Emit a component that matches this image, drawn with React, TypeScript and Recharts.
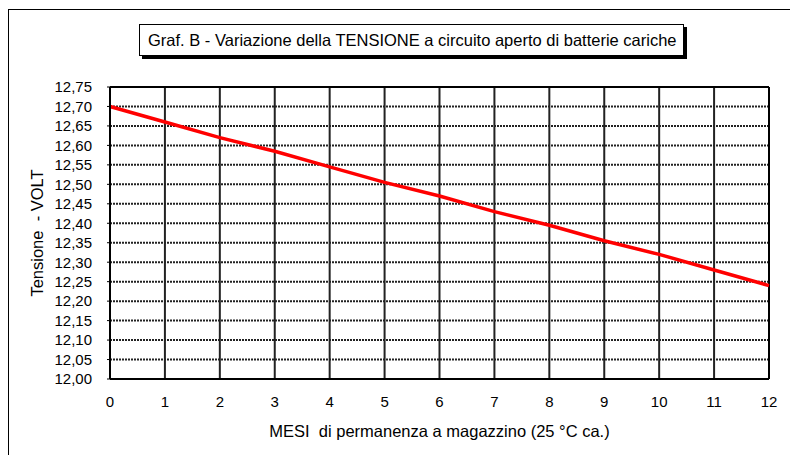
import React from 'react';
import {
  LineChart,
  Line,
  XAxis,
  YAxis,
  CartesianGrid,
  ReferenceLine,
  Label
} from 'recharts';

// mesi di permanenza a magazzino
const months = [0, 1, 2, 3, 4, 5, 6, 7, 8, 9, 10, 11, 12];
// tensione a circuito aperto (V)
const voltage = [12.7, 12.66, 12.62, 12.585, 12.545, 12.505, 12.47, 12.43, 12.395, 12.355, 12.32, 12.28, 12.24];
const voltTicks = [12.0, 12.05, 12.1, 12.15, 12.2, 12.25, 12.3, 12.35, 12.4, 12.45, 12.5, 12.55, 12.6, 12.65, 12.7, 12.75];

const title = 'Graf. B - Variazione della TENSIONE a circuito aperto di batterie cariche';
const xTitle = 'MESI\u00a0 di permanenza a magazzino (25 °C ca.)';
const yTitle = 'Tensione\u00a0 - VOLT';

const font = 'Arial, "Liberation Sans", sans-serif';

const data = months.map((m, i) => ({ month: m, volt: voltage[i] }));

const fmt = (v: number) => v.toFixed(2).replace('.', ',');

const App: React.FC = () => {
  return (
    <div style={{ position: 'absolute', left: 0, top: 0, width: 790, height: 455, background: '#fff', fontFamily: font, overflow: 'hidden' }}>
      {/* cornice esterna */}
      <div style={{ position: 'absolute', left: 8, top: 9, width: 790, height: 460, borderLeft: '1px solid #000', borderTop: '1px solid #000' }} />
      {/* titolo */}
      <div
        style={{
          position: 'absolute',
          left: 139,
          top: 24,
          width: 545,
          height: 32,
          border: '1px solid #000',
          boxShadow: '3px 3px 0 #000',
          background: '#fff',
          fontSize: 16.5,
          lineHeight: '30px',
          paddingLeft: 8,
          boxSizing: 'border-box',
          whiteSpace: 'nowrap',
          zIndex: 2
        }}
      >
        {title}
      </div>
      <div style={{ position: 'absolute', left: 0, top: 0 }}>
        <LineChart
          width={790}
          height={455}
          data={data}
          margin={{ top: 87, right: 21, bottom: 40, left: 30 }}
        >
          <CartesianGrid horizontal={true} vertical={false} stroke="#222" strokeWidth={2} strokeDasharray="2 1" />
          <CartesianGrid horizontal={false} vertical={true} stroke="#222" strokeWidth={2} />
          <XAxis
            dataKey="month"
            type="number"
            domain={[0, 12]}
            ticks={months}
            interval={0}
            height={36}
            tickLine={false}
            tickSize={0}
            tickMargin={17}
            axisLine={{ stroke: '#000', strokeWidth: 2 }}
            tick={{ fill: '#000', fontSize: 15, fontFamily: font }}
          >
            <Label value={xTitle} position="insideBottom" offset={-22} style={{ fill: '#000', fontSize: 16.5, fontFamily: font }} />
          </XAxis>
          <YAxis
            type="number"
            domain={[12.0, 12.75]}
            ticks={voltTicks}
            interval={0}
            width={80}
            tickSize={3}
            tickMargin={15}
            tickFormatter={fmt}
            axisLine={{ stroke: '#000', strokeWidth: 2 }}
            tickLine={{ stroke: '#000' }}
            tick={{ fill: '#000', fontSize: 15, fontFamily: font }}
          >
            <Label value={yTitle} angle={-90} position="insideLeft" offset={7} style={{ fill: '#000', fontSize: 16.5, fontFamily: font, textAnchor: 'middle' }} />
          </YAxis>
          <ReferenceLine y={12.75} stroke="#000" strokeWidth={2} />
          <ReferenceLine x={12} stroke="#000" strokeWidth={2} />
          <Line
            type="linear"
            dataKey="volt"
            stroke="#ff0000"
            strokeWidth={3.5}
            dot={false}
            activeDot={false}
            isAnimationActive={false}
          />
        </LineChart>
      </div>
    </div>
  );
};

export default App;
